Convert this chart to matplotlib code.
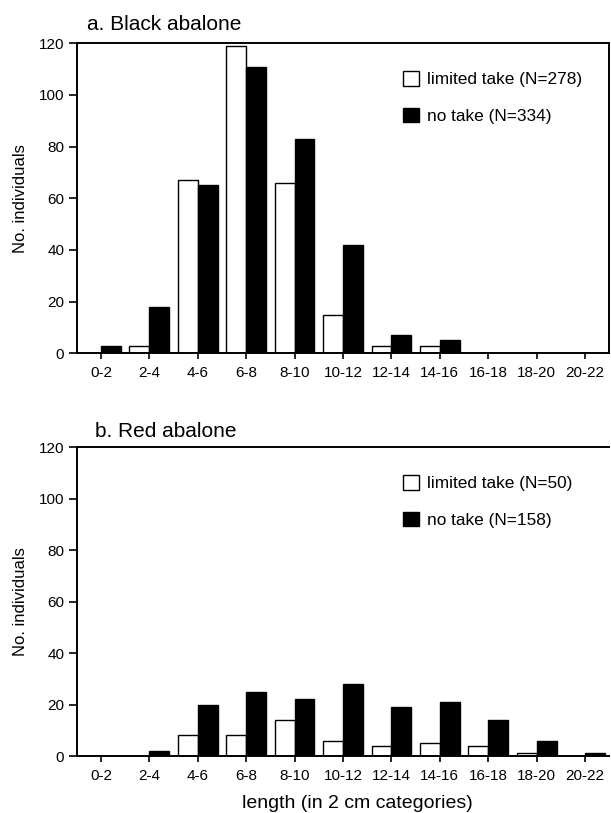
import numpy as np
import matplotlib.pyplot as plt

plt.rcParams['font.family'] = ['Liberation Sans', 'DejaVu Sans']

categories = ['0-2', '2-4', '4-6', '6-8', '8-10', '10-12', '12-14', '14-16', '16-18', '18-20', '20-22']

black_limited = [0, 3, 67, 119, 66, 15, 3, 3, 0, 0, 0]
black_notake = [3, 18, 65, 111, 83, 42, 7, 5, 0, 0, 0]
red_limited = [0, 0, 8, 8, 14, 6, 4, 5, 4, 1, 0]
red_notake = [0, 2, 20, 25, 22, 28, 19, 21, 14, 6, 1]

panels = [
    ('a. Black abalone', black_limited, black_notake, 'limited take (N=278)', 'no take (N=334)'),
    ('b. Red abalone', red_limited, red_notake, 'limited take (N=50)', 'no take (N=158)'),
]

fig = plt.figure(figsize=(6.11, 8.13), dpi=100)
# axes boxes in figure fractions (left, bottom, width, height)
boxes = [[0.1255, 0.5654, 0.8717, 0.3813], [0.1255, 0.0701, 0.8717, 0.3795]]
title_pos = [(0.019, 1.03), (0.034, 1.022)]
right_spine = [True, False]

x = np.arange(len(categories))
w = 0.41
for i, ((title, lim, nt, lab1, lab2), box) in enumerate(zip(panels, boxes)):
    ax = fig.add_axes(box)
    ax.bar(x - w / 2, lim, w, color='white', edgecolor='black', linewidth=1.0, label=lab1)
    ax.bar(x + w / 2, nt, w, color='black', edgecolor='black', linewidth=1.0, label=lab2)
    ax.set_xlim(-0.5, 10.5)
    ax.set_ylim(0, 120)
    ax.set_yticks(range(0, 121, 20))
    ax.set_xticks(x)
    ax.set_xticklabels(categories)
    ax.spines['right'].set_visible(right_spine[i])
    for s in ['left', 'top', 'bottom', 'right']:
        ax.spines[s].set_linewidth(1.4)
    ax.tick_params(axis='y', direction='out', length=6, width=1.2, labelsize=11, pad=3)
    ax.tick_params(axis='x', direction='out', length=4.5, width=1.2, labelsize=11, pad=4.5)
    ax.set_ylabel('No. individuals', fontsize=12, labelpad=8)
    ax.text(title_pos[i][0], title_pos[i][1], title, transform=ax.transAxes,
            fontsize=15, ha='left', va='bottom')
    ax.legend(loc='upper left', bbox_to_anchor=(0.613, 0.91), frameon=False, fontsize=12.4,
              handlelength=0.93, handleheight=0.93, handletextpad=0.47, labelspacing=1.18,
              borderpad=0, borderaxespad=0)

fig.text(357 / 611, 5 / 813, 'length (in 2 cm categories)', fontsize=14, ha='center', va='baseline')

plt.savefig('out.png', dpi=100)
